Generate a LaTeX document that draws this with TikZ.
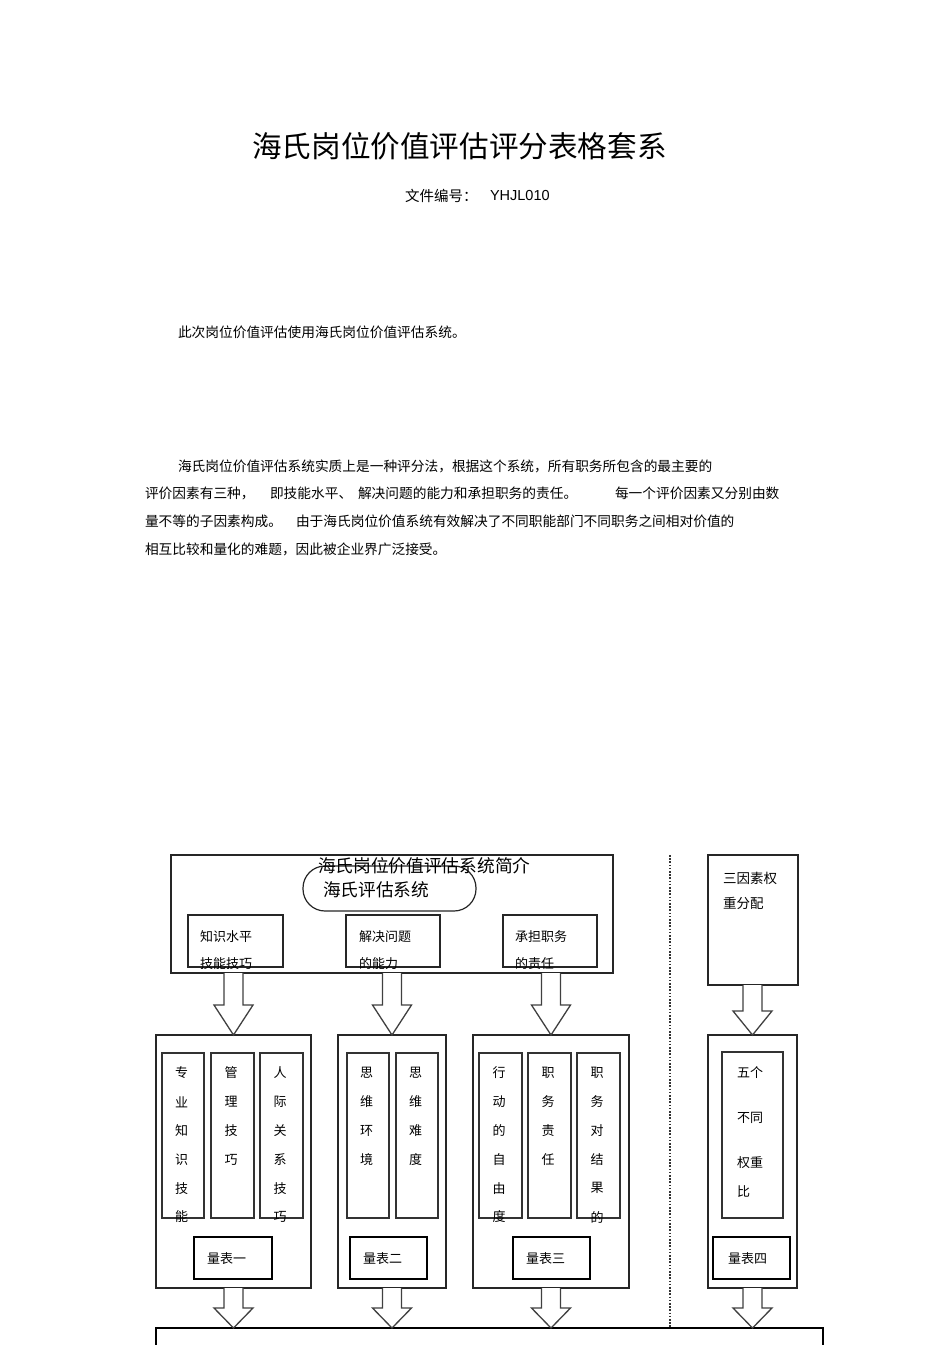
\documentclass[tikz,border=0pt]{standalone}
\usepackage{fontspec}
\newfontfamily\cjk{Noto Sans CJK SC}
\newfontfamily\lat{Liberation Sans}
\usetikzlibrary{calc}
\tikzset{
  box/.style={draw=black!85, line width=1.2pt, inner sep=0pt, outer sep=0pt},
  colbox/.style={draw=black!80, line width=1.5pt, inner sep=0pt, outer sep=0pt},
  scalebox/.style={draw=black, line width=2pt, inner sep=0pt, outer sep=0pt},
  txt/.style={inner sep=0pt, outer sep=0pt, anchor=west},
  body/.style={txt, font=\cjk\fontsize{13.7}{16}\selectfont},
  small/.style={txt, font=\cjk\fontsize{13}{15}\selectfont},
  ctext/.style={inner sep=0pt, outer sep=0pt, font=\cjk\fontsize{13}{15}\selectfont},
  mid/.style={txt, font=\cjk\fontsize{17.7}{20}\selectfont},
  barrow/.style={draw=black!75, line width=1.3pt, line join=miter, fill=white},
  dotline/.style={draw=black!80, line width=1.6pt, dash pattern=on 1.6pt off 1.6pt},
}
% #1 node giving x, #2 node whose south gives top y, #3 node whose north gives tip y, #4 head length
\newcommand\blockarrow[4]{%
  \path[barrow] let \p1=(#1.center), \p2=(#2.south), \p3=(#3.north) in
    (\x1-9.5pt,\y2) -- (\x1-9.5pt,\y3+#4pt) -- (\x1-19.5pt,\y3+#4pt) -- (\x1,\y3)
    -- (\x1+19.5pt,\y3+#4pt) -- (\x1+9.5pt,\y3+#4pt) -- (\x1+9.5pt,\y2);}
\begin{document}
\begin{tikzpicture}[x=1pt,y=-1pt]
\useasboundingbox (0,0) rectangle (950,1345);
\fill[white] (0,0) rectangle (950,1345);

% ---- header text
\node[inner sep=0pt, font=\cjk\fontsize{29.6}{32}\selectfont] (title) at (459.5,146) {海氏岗位价值评估评分表格套系};
\node[txt, font=\cjk\fontsize{14.5}{16}\selectfont] (fileno) at (405,196) {文件编号：};
\node[txt, font=\lat\fontsize{14.5}{16}\selectfont] (code) at (490,196) {YHJL010};
\node[body] (p0) at (178,332) {此次岗位价值评估使用海氏岗位价值评估系统。};

\node[body] (l1) at (178,466) {海氏岗位价值评估系统实质上是一种评分法，根据这个系统，所有职务所包含的最主要的};
\node[body] (l2a) at (145,493) {评价因素有三种，};
\node[body] (l2b) at (270,493) {即技能水平、};
\node[body] (l2c) at (358,493) {解决问题的能力和承担职务的责任。};
\node[body] (l2d) at (615,493) {每一个评价因素又分别由数};
\node[body] (l3a) at (145,521) {量不等的子因素构成。};
\node[body] (l3b) at (296,521) {由于海氏岗位价值系统有效解决了不同职能部门不同职务之间相对价值的};
\node[body] (l4) at (145,549) {相互比较和量化的难题，因此被企业界广泛接受。};

% ---- top box
\node[box, minimum width=442, minimum height=118] (top) at (392,914) {};
\node[box, fill=white, rounded corners=22pt, minimum width=173, minimum height=45] (ell) at (389.5,888.5) {};
\node[mid] (elltxt) at (323,890) {海氏评估系统};
\node[mid] (toptitle) at (318,866) {海氏岗位价值评估系统简介};

\node[box, minimum width=95, minimum height=52] (s1) at (235.5,941) {};
\node[box, minimum width=94, minimum height=52] (s2) at (393,941) {};
\node[box, minimum width=94, minimum height=52] (s3) at (550,941) {};
\node[small] (s1a) at (200,937) {知识水平};
\node[small] (s1b) at (200,964) {技能技巧};
\node[small] (s2a) at (359,937) {解决问题};
\node[small] (s2b) at (359,964) {的能力};
\node[small] (s3a) at (515,937) {承担职务};
\node[small] (s3b) at (515,964) {的责任};

% ---- weight box
\node[box, minimum width=90, minimum height=130] (W) at (753,920) {};
\node[small, font=\cjk\fontsize{13.5}{15}\selectfont] (Wa) at (723,878) {三因素权};
\node[small, font=\cjk\fontsize{13.5}{15}\selectfont] (Wb) at (723,903) {重分配};

% ---- dotted separator
\coordinate (dt) at (670,855);
\coordinate (db) at (670,1328);
\draw[dotline] (dt) -- (db);

% ---- column boxes
\node[box, minimum width=155, minimum height=253] (A) at (233.5,1161.5) {};
\node[box, minimum width=108, minimum height=253] (B) at (392,1161.5) {};
\node[box, minimum width=156, minimum height=253] (C) at (551,1161.5) {};
\node[box, minimum width=89, minimum height=253] (D) at (752.5,1161.5) {};

% inner columns
\node[colbox, minimum width=42, minimum height=165] (A1) at (183,1135.5) {};
\node[colbox, minimum width=43, minimum height=165] (A2) at (232.5,1135.5) {};
\node[colbox, minimum width=43, minimum height=165] (A3) at (281.5,1135.5) {};
\node[colbox, minimum width=42, minimum height=165] (B1) at (368,1135.5) {};
\node[colbox, minimum width=42, minimum height=165] (B2) at (417,1135.5) {};
\node[colbox, minimum width=43, minimum height=165] (C1) at (500.5,1135.5) {};
\node[colbox, minimum width=43, minimum height=165] (C2) at (549.5,1135.5) {};
\node[colbox, minimum width=43, minimum height=165] (C3) at (598.5,1135.5) {};
\node[colbox, minimum width=61, minimum height=166] (D1) at (752.5,1135) {};

\foreach \col/\chars in {A1/{专,业,知,识,技,能}, A2/{管,理,技,巧}, A3/{人,际,关,系,技,巧},
                         B1/{思,维,环,境}, B2/{思,维,难,度},
                         C1/{行,动,的,自,由,度}, C2/{职,务,责,任}, C3/{职,务,对,结,果,的}}{
  \foreach \c [count=\i from 0] in \chars {
    \node[ctext] (\col-t\i) at ($(\col.center|-0,{1073+28.8*\i})+(-1.5,0)$) {\c};
  }
}

\node[small] (D1a) at (737,1073) {五个};
\node[small] (D1b) at (737,1118) {不同};
\node[small] (D1c) at (737,1163) {权重};
\node[small] (D1d) at (737,1192) {比};

% scale boxes
\node[scalebox, minimum width=78, minimum height=42] (qA) at (233,1258) {};
\node[scalebox, minimum width=77, minimum height=42] (qB) at (388.5,1258) {};
\node[scalebox, minimum width=77, minimum height=42] (qC) at (551.5,1258) {};
\node[scalebox, minimum width=77, minimum height=42] (qD) at (751.5,1258) {};
\node[small] (qAt) at (207,1259) {量表一};
\node[small] (qBt) at (363,1259) {量表二};
\node[small] (qCt) at (526,1259) {量表三};
\node[small] (qDt) at (728,1259) {量表四};

% ---- bottom box
\node[box, line width=1.6pt, draw=black, anchor=north west, minimum width=667, minimum height=60] (bot) at (156,1328) {};

% ---- block arrows
\blockarrow{A}{top}{A}{30}
\blockarrow{B}{top}{B}{30}
\blockarrow{C}{top}{C}{30}
\blockarrow{D}{W}{D}{24}
\blockarrow{A}{A}{bot}{20}
\blockarrow{B}{B}{bot}{20}
\blockarrow{C}{C}{bot}{20}
\blockarrow{D}{D}{bot}{20}
\end{tikzpicture}
\end{document}
